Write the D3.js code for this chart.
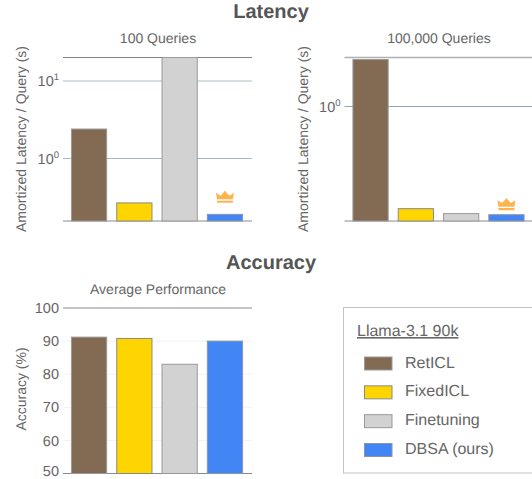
<!DOCTYPE html>
<html><head><meta charset="utf-8">
<script src="https://cdn.jsdelivr.net/npm/d3@7"></script>
<style>html,body{margin:0;padding:0;background:#fff;overflow:hidden}svg{display:block}text{font-family:"Liberation Sans",Arial,sans-serif;fill:#666;text-rendering:geometricPrecision}</style>
</head><body><svg id="c" width="532" height="479"></svg>
<script>
const methods = ["RetICL","FixedICL","Finetuning","DBSA (ours)"];
const colors = ["#836a52","#ffd500","#d2d2d2","#4285f4"];
const strokes = ["#9a9a9a","#8a8a8a","#999999","#8b95a5"];
const latency100 = [2.4,0.267,20.1,0.19];
const latency100k = [2.24,0.173,0.159,0.156];
const accuracy = [91.2,90.8,83,90];
const accuracyTicks = [50,60,70,80,90,100];
const bestIndex = 3;
const svg = d3.select("#c");
const crownPath = "M-8,2.5 L-9,-4 L-4.4,-1.2 L0,-6 L4.4,-1.2 L9,-4 L8,2.5 Z M-8,3.8 H8 V6 H-8 Z";

function panel(o){
  const x = d3.scaleBand().domain(methods).range([o.x0,o.x1]).paddingInner(0.2).paddingOuter(0.175);
  const y = o.log ? d3.scaleLog().domain(o.dom).range([o.yb,o.yt])
                  : d3.scaleLinear().domain(o.dom).range([o.yb,o.yt]);
  const g = svg.append("g");
  o.ticks.forEach(t=>{
    g.append("line").attr("x1",o.x0).attr("x2",o.gx1).attr("y1",y(t)).attr("y2",y(t))
     .attr("stroke",o.gridColor(t)).attr("stroke-width",o.gridWidth(t));
  });
  g.append("line").attr("x1",o.x0).attr("x2",o.gx1).attr("y1",o.yt).attr("y2",o.yt).attr("stroke",o.topColor).attr("stroke-width",o.topWidth);
  g.append("line").attr("x1",o.x0).attr("x2",o.gx1).attr("y1",o.yb).attr("y2",o.yb).attr("stroke","#8a8a8a").attr("stroke-width",1);
  g.selectAll("rect.b").data(o.values).join("rect").attr("class","b")
    .attr("x",(d,i)=>x(methods[i])+.5).attr("width",x.bandwidth()-1)
    .attr("y",d=>y(d)).attr("height",d=>o.yb-y(d))
    .attr("fill",(d,i)=>colors[i]).attr("stroke",(d,i)=>strokes[i]).attr("stroke-width",1);
  const ax = g.append("g").attr("transform",`translate(${o.x0},0)`)
    .call(d3.axisLeft(y).tickValues(o.ticks).tickSize(0).tickPadding(4).tickFormat(o.log?()=>"":d3.format("d")));
  ax.select(".domain").remove();
  ax.selectAll("text").style("font-size","14.5px");
  if(o.log){
    ax.selectAll("text").each(function(t){
      const s=d3.select(this);
      s.append("tspan").text("10").style("font-size","14.5px");
      s.append("tspan").text(Math.round(Math.log10(t))).attr("dy",-6).style("font-size","9.5px");
    });
  } else {
    ax.selectAll("text").filter(t=>t===o.dom[0]).attr("dy","0.15em");
  }
  svg.append("text").attr("x",o.tx).attr("y",42.5+o.dy).attr("text-anchor","middle").style("font-size","14px").text(o.title);
  svg.append("text").attr("transform",`translate(${o.lx},${o.ly}) rotate(-90)`).attr("text-anchor","middle").style("font-size","14px").text(o.ylabel);
  if(o.crown){
    svg.append("path").attr("d",crownPath)
      .attr("transform",`translate(${x(methods[bestIndex])+x.bandwidth()/2},${y(o.values[bestIndex])-o.crownGap})`)
      .attr("fill","#fdb44f");
  }
}

panel({x0:63,x1:251,gx1:252,yt:57.5,yb:221,log:true,dom:[0.156,20.1],ticks:[1,10],values:latency100,
  gridColor:t=>t===10?"#c6d4d9":"#a6b8c6",gridWidth:t=>t===10?1.6:1.2,topColor:"#808080",topWidth:1,
  title:"100 Queries",tx:158,dy:0,lx:26,ly:139,ylabel:"Amortized Latency / Query (s)",crown:true,crownGap:17.5});
panel({x0:344.5,x1:532.5,gx1:532,yt:57.5,yb:221,log:true,dom:[0.14,2.32],ticks:[1],values:latency100k,
  gridColor:()=>"#8fa5b5",gridWidth:()=>1,topColor:"#b0b0b0",topWidth:1.5,
  title:"100,000 Queries",tx:439,dy:0,lx:307.5,ly:139,ylabel:"Amortized Latency / Query (s)",crown:true,crownGap:10.5});
panel({x0:63,x1:251,gx1:252,yt:308,yb:473.5,log:false,dom:[50,100],ticks:accuracyTicks,values:accuracy,
  gridColor:()=>"#f2f2f2",gridWidth:()=>1,topColor:"#b5b5b5",topWidth:1.5,
  title:"Average Performance",tx:158,dy:251,lx:26,ly:389,ylabel:"Accuracy (%)",crown:false});

svg.append("text").attr("x",271).attr("y",18).attr("text-anchor","middle").style("font-size","20px").style("font-weight","bold").style("fill","#555").text("Latency");
svg.append("text").attr("x",271).attr("y",269).attr("text-anchor","middle").style("font-size","20px").style("font-weight","bold").style("fill","#555").text("Accuracy");

const lg = svg.append("g");
lg.append("rect").attr("x",343.5).attr("y",307.5).attr("width",200).attr("height",165.5).attr("fill","#fff").attr("stroke","#c4c4c4").attr("stroke-width",1);
lg.append("text").attr("x",357).attr("y",336).style("font-size","16px").style("text-decoration","underline").text("Llama-3.1 90k");
const ly = d3.scalePoint().domain(methods).range([363.5,450]);
methods.forEach((m,i)=>{
  lg.append("rect").attr("x",364.5).attr("y",ly(m)-6.5).attr("width",27.5).attr("height",13)
    .attr("fill",colors[i]).attr("stroke",strokes[i]).attr("stroke-width",1);
  lg.append("text").attr("x",405).attr("y",ly(m)+4).style("font-size","16px").text(m);
});
</script></body></html>
